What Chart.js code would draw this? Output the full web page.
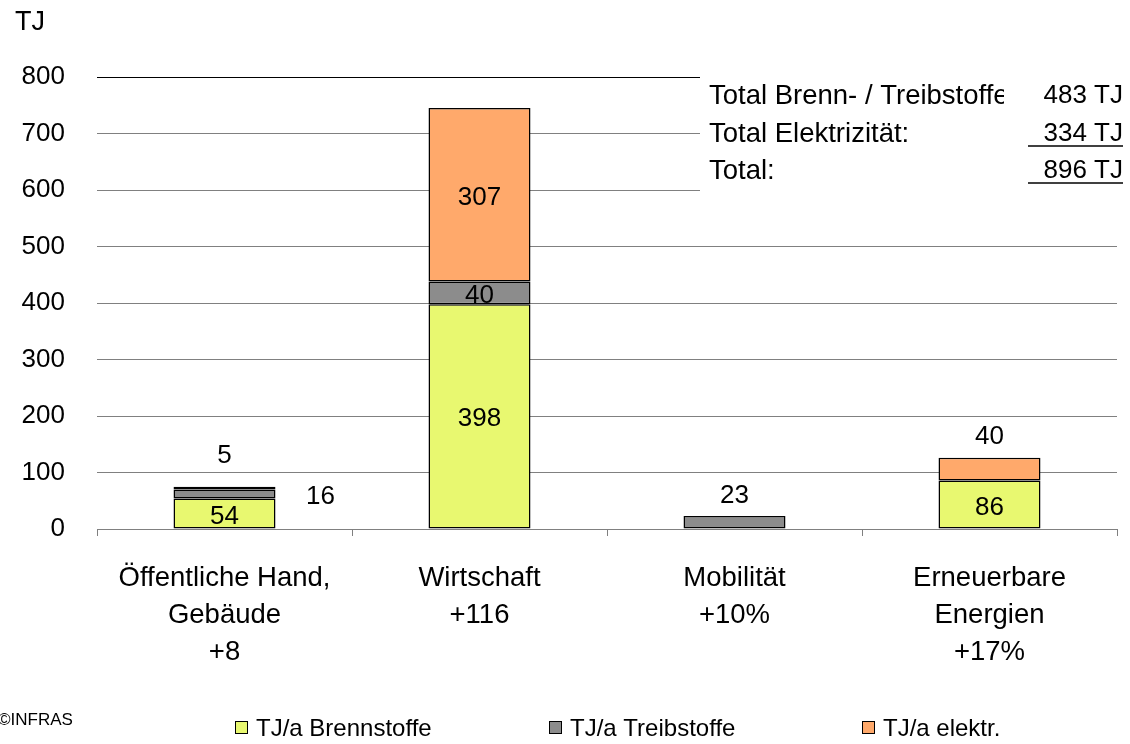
<!DOCTYPE html>
<html>
<head>
<meta charset="utf-8">
<script src="https://cdn.jsdelivr.net/npm/chart.js@4"></script>
<style>
  html, body { margin: 0; padding: 0; background: #fff; }
  #wrap { width: 1130px; height: 744px; position: relative; }
</style>
</head>
<body>
<div id="wrap"><canvas id="chart" width="1130" height="744"></canvas></div>
<script>
// chart data
const categories = [
    ['Öffentliche Hand,', 'Gebäude', '+8'],
    ['Wirtschaft', '+116'],
    ['Mobilität', '+10%'],
    ['Erneuerbare', 'Energien', '+17%']
];
const seriesNames = ['TJ/a Brennstoffe', 'TJ/a Treibstoffe', 'TJ/a elektr.'];
const brennstoffe = [54, 398, null, 86];
const treibstoffe = [16, 40, 23, null];
const elektr = [5, 307, null, 40];
const yTicks = [0, 100, 200, 300, 400, 500, 600, 700, 800];
const totalLabels = ['Total Brenn- / Treibstoffe', 'Total Elektrizität:', 'Total:'];
const totalValues = ['483 TJ', '334 TJ', '896 TJ'];

const FONT = '"Liberation Sans", Arial, sans-serif';
const green = '#E8F870';
const grey = '#8C8C8C';
const orange = '#FFA96B';

// where each value label sits (style only)
const labelPlace = [
    [{ at: 'mid' }, { at: 'mid' }, null, { at: 'mid' }],
    [{ at: 'right', dx: 45, dy: 3 }, { at: 'mid' }, { at: 'top', dy: -20 }, null],
    [{ at: 'top', dy: -31 }, { at: 'mid' }, null, { at: 'top', dy: -21 }]
];

const valueLabels = {
    id: 'valueLabels',
    afterDatasetsDraw(chart) {
        const ctx = chart.ctx;
        ctx.save();
        ctx.font = '26px ' + FONT;
        ctx.fillStyle = '#000';
        ctx.textAlign = 'center';
        ctx.textBaseline = 'middle';
        chart.data.datasets.forEach((ds, di) => {
            const meta = chart.getDatasetMeta(di);
            meta.data.forEach((bar, i) => {
                const v = ds.data[i];
                const p = labelPlace[di][i];
                if (v == null || !p) return;
                let x = bar.x, y;
                if (p.at === 'mid') {
                    y = (bar.y + bar.base) / 2 + 3;
                } else if (p.at === 'top') {
                    y = bar.y + p.dy;
                } else {
                    x = bar.x + bar.width / 2 + p.dx;
                    y = (bar.y + bar.base) / 2 + p.dy;
                }
                ctx.fillText(String(v), x, y);
            });
        });
        ctx.restore();
    }
};

const extras = {
    id: 'extras',
    afterDraw(chart) {
        const ctx = chart.ctx;
        ctx.save();
        // totals box
        ctx.fillStyle = '#fff';
        ctx.fillRect(700, 70, 430, 125);
        ctx.fillStyle = '#000';
        ctx.textBaseline = 'middle';
        const rows = [96, 134, 171];
        rows.forEach((y, i) => {
            ctx.save();
            ctx.beginPath();
            ctx.rect(700, y - 20, 304, 40);
            ctx.clip();
            ctx.font = '27.5px ' + FONT;
            ctx.textAlign = 'left';
            ctx.fillText(totalLabels[i], 709, y);
            ctx.restore();
            ctx.font = '26px ' + FONT;
            ctx.textAlign = 'right';
            ctx.fillText(totalValues[i], 1123, y);
        });
        ctx.strokeStyle = '#000';
        ctx.lineWidth = 1.5;
        [146, 183].forEach(y => {
            ctx.beginPath();
            ctx.moveTo(1028, y);
            ctx.lineTo(1123, y);
            ctx.stroke();
        });

        // unit
        ctx.textAlign = 'left';
        ctx.font = '27px ' + FONT;
        ctx.fillText('TJ', 15, 23);

        // legend
        const colors = [green, grey, orange];
        const boxX = [235, 549, 862];
        ctx.font = '24px ' + FONT;
        seriesNames.forEach((name, i) => {
            ctx.fillStyle = colors[i];
            ctx.fillRect(boxX[i], 721, 13, 13);
            ctx.strokeStyle = '#000';
            ctx.lineWidth = 1;
            ctx.strokeRect(boxX[i] + 0.5, 721.5, 12, 12);
            ctx.fillStyle = '#000';
            ctx.fillText(name, boxX[i] + 21, 729);
        });

        // source
        ctx.font = '17px ' + FONT;
        ctx.fillText('©INFRAS', -2, 720);
        ctx.restore();
    }
};

new Chart(document.getElementById('chart'), {
    type: 'bar',
    data: {
        labels: categories,
        datasets: [
            { label: seriesNames[0], data: brennstoffe, backgroundColor: green },
            { label: seriesNames[1], data: treibstoffe, backgroundColor: grey },
            { label: seriesNames[2], data: elektr, backgroundColor: ['#000000', orange, orange, orange] }
        ].map(ds => Object.assign(ds, {
            borderColor: '#000',
            borderWidth: 1.5,
            borderSkipped: false,
            barPercentage: 0.4,
            categoryPercentage: 1
        }))
    },
    options: {
        responsive: false,
        animation: false,
        layout: { padding: { top: 77, right: 13, left: 0, bottom: 0 } },
        plugins: {
            legend: { display: false },
            tooltip: { enabled: false }
        },
        scales: {
            x: {
                stacked: true,
                grid: {
                    drawOnChartArea: false,
                    drawTicks: true,
                    tickLength: 7,
                    color: '#808080'
                },
                border: { display: false },
                ticks: {
                    color: '#000',
                    font: { family: FONT, size: 27.5, lineHeight: 1.35 },
                    padding: 24,
                    maxRotation: 0,
                    autoSkip: false
                },
                afterFit(scale) { scale.height = 215; }
            },
            y: {
                stacked: true,
                min: yTicks[0],
                max: yTicks[yTicks.length - 1],
                afterBuildTicks(scale) {
                    scale.ticks = yTicks.map(v => ({ value: v }));
                },
                grid: {
                    drawTicks: false,
                    color: ctx => ctx.tick && ctx.tick.value === 800 ? '#000' : '#808080'
                },
                border: { display: false },
                ticks: {
                    color: '#000',
                    font: { family: FONT, size: 26 },
                    padding: 32
                },
                afterFit(scale) { scale.width = 97; }
            }
        }
    },
    plugins: [valueLabels, extras]
});
</script>
</body>
</html>
